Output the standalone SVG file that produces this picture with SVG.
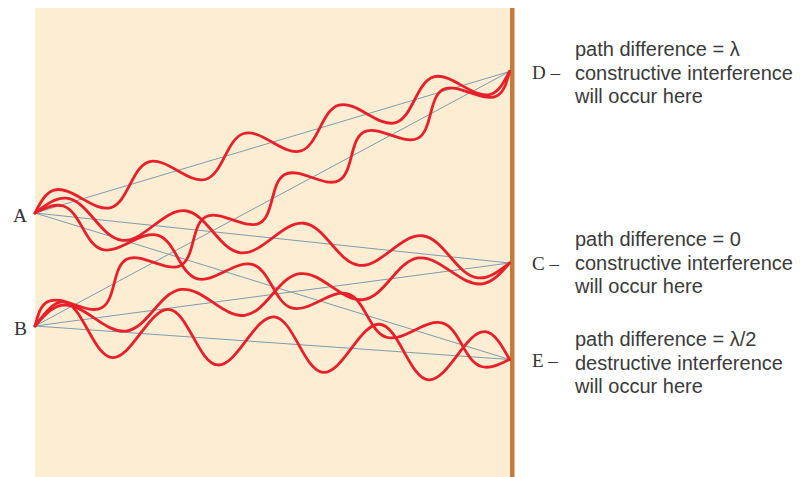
<svg xmlns="http://www.w3.org/2000/svg" width="800" height="477" viewBox="0 0 800 477">
  <style>
    .ray { stroke: #7b9bb0; stroke-width: 1; fill: none; }
    .wave { stroke: #e8202a; stroke-width: 2.8; fill: none; stroke-linejoin: round; stroke-linecap: round; }
    .pt { font-family: "Liberation Serif", "Times New Roman", serif; fill: #333333; }
    .note { font-family: "Liberation Sans", Arial, sans-serif; font-size: 20px; fill: #3a3a3a; }
  </style>

  <!-- region between the sources and the screen, and the screen itself -->
  <g id="field">
    <rect x="35" y="8" width="476" height="469" fill="#fdeed3"/>
    <rect x="510" y="8" width="4.5" height="469" fill="#c27b3b"/>
  </g>

  <!-- straight paths from each source to each point, with the waves drawn along them -->
  <g id="connectors">
    <line class="ray" x1="35" y1="213" x2="509.5" y2="71.5"/>
    <line class="ray" x1="35" y1="326" x2="509.5" y2="71.5"/>
    <line class="ray" x1="35" y1="213" x2="509.5" y2="263"/>
    <line class="ray" x1="35" y1="326" x2="509.5" y2="263"/>
    <line class="ray" x1="35" y1="213" x2="509.5" y2="359.5"/>
    <line class="ray" x1="35" y1="326" x2="509.5" y2="359.5"/>

    <!-- A to D : 5 wavelengths -->
    <path class="wave" transform="translate(35,213) rotate(-16.61)" d="M0,0 c8.07,-8.45 15.84,-16.5 24.76,-16.5 s16.68,8.05 24.76,16.5 s15.84,16.5 24.76,16.5 s16.68,-8.05 24.76,-16.5
      s15.84,-16.5 24.76,-16.5 s16.68,8.05 24.76,16.5 s15.84,16.5 24.76,16.5 s16.68,-8.05 24.76,-16.5
      s15.84,-16.5 24.76,-16.5 s16.68,8.05 24.76,16.5 s15.84,16.5 24.76,16.5 s16.68,-8.05 24.76,-16.5
      s15.84,-16.5 24.76,-16.5 s16.68,8.05 24.76,16.5 s15.84,16.5 24.76,16.5 s16.68,-8.05 24.76,-16.5
      s15.84,-16.5 24.76,-16.5 s16.68,8.05 24.76,16.5 s15.84,16.5 24.76,16.5 s16.68,-8.05 24.76,-16.5"/>

    <!-- B to D : 6 wavelengths -->
    <path class="wave" transform="translate(35,326) rotate(-28.21)" d="M0,0 c7.32,-7.94 14.35,-15.5 22.44,-15.5 s15.12,7.56 22.44,15.5 s14.35,15.5 22.44,15.5 s15.12,-7.56 22.44,-15.5
      s14.35,-15.5 22.44,-15.5 s15.12,7.56 22.44,15.5 s14.35,15.5 22.44,15.5 s15.12,-7.56 22.44,-15.5
      s14.35,-15.5 22.44,-15.5 s15.12,7.56 22.44,15.5 s14.35,15.5 22.44,15.5 s15.12,-7.56 22.44,-15.5
      s14.35,-15.5 22.44,-15.5 s15.12,7.56 22.44,15.5 s14.35,15.5 22.44,15.5 s15.12,-7.56 22.44,-15.5
      s14.35,-15.5 22.44,-15.5 s15.12,7.56 22.44,15.5 s14.35,15.5 22.44,15.5 s15.12,-7.56 22.44,-15.5
      s14.35,-15.5 22.44,-15.5 s15.12,7.56 22.44,15.5 s14.35,15.5 22.44,15.5 s15.12,-7.56 22.44,-15.5"/>

    <!-- A to C : 4 wavelengths -->
    <path class="wave" transform="translate(35,213) rotate(6.02)" d="M0,0 c9.72,-9.22 19.08,-18 29.82,-18 s20.1,8.78 29.82,18 s19.08,18 29.82,18 s20.1,-8.78 29.82,-18
      s19.08,-18 29.82,-18 s20.1,8.78 29.82,18 s19.08,18 29.82,18 s20.1,-8.78 29.82,-18
      s19.08,-18 29.82,-18 s20.1,8.78 29.82,18 s19.08,18 29.82,18 s20.1,-8.78 29.82,-18
      s19.08,-18 29.82,-18 s20.1,8.78 29.82,18 s19.08,18 29.82,18 s20.1,-8.78 29.82,-18"/>

    <!-- B to C : 4 wavelengths -->
    <path class="wave" transform="translate(35,326) rotate(-7.56)" d="M0,0 c9.76,-8.71 19.14,-17 29.92,-17 s20.16,8.29 29.92,17 s19.14,17 29.92,17 s20.16,-8.29 29.92,-17
      s19.14,-17 29.92,-17 s20.16,8.29 29.92,17 s19.14,17 29.92,17 s20.16,-8.29 29.92,-17
      s19.14,-17 29.92,-17 s20.16,8.29 29.92,17 s19.14,17 29.92,17 s20.16,-8.29 29.92,-17
      s19.14,-17 29.92,-17 s20.16,8.29 29.92,17 s19.14,17 29.92,17 s20.16,-8.29 29.92,-17"/>

    <!-- A to E : 5 wavelengths -->
    <path class="wave" transform="translate(35,213) rotate(17.16)" d="M0,0 c8.1,-7.69 15.89,-15 24.83,-15 s16.73,7.32 24.83,15 s15.89,15 24.83,15 s16.73,-7.32 24.83,-15
      s15.89,-15 24.83,-15 s16.73,7.32 24.83,15 s15.89,15 24.83,15 s16.73,-7.32 24.83,-15
      s15.89,-15 24.83,-15 s16.73,7.32 24.83,15 s15.89,15 24.83,15 s16.73,-7.32 24.83,-15
      s15.89,-15 24.83,-15 s16.73,7.32 24.83,15 s15.89,15 24.83,15 s16.73,-7.32 24.83,-15
      s15.89,-15 24.83,-15 s16.73,7.32 24.83,15 s15.89,15 24.83,15 s16.73,-7.32 24.83,-15"/>

    <!-- B to E : 4.5 wavelengths -->
    <path class="wave" transform="translate(35,326) rotate(4.04)" d="M0,0 c8.62,-13.32 16.91,-26 26.43,-26 s17.81,12.68 26.43,26 s16.91,26 26.43,26 s17.81,-12.68 26.43,-26
      s16.91,-26 26.43,-26 s17.81,12.68 26.43,26 s16.91,26 26.43,26 s17.81,-12.68 26.43,-26
      s16.91,-26 26.43,-26 s17.81,12.68 26.43,26 s16.91,26 26.43,26 s17.81,-12.68 26.43,-26
      s16.91,-26 26.43,-26 s17.81,12.68 26.43,26 s16.91,26 26.43,26 s17.81,-12.68 26.43,-26
      s16.91,-26 26.43,-26 s17.81,12.68 26.43,26"/>
  </g>

  <!-- sources -->
  <g id="source-A">
    <text class="pt" x="13" y="222" font-size="19.5">A</text>
  </g>
  <g id="source-B">
    <text class="pt" x="14" y="335" font-size="19.5">B</text>
  </g>

  <!-- points on the screen -->
  <g id="point-D">
    <text class="pt" x="532" y="79" font-size="19">D –</text>
    <text class="note" x="575" y="56">path difference = λ</text>
    <text class="note" x="575" y="80">constructive interference</text>
    <text class="note" x="575" y="103">will occur here</text>
  </g>
  <g id="point-C">
    <text class="pt" x="532" y="270" font-size="19">C –</text>
    <text class="note" x="575" y="246">path difference = 0</text>
    <text class="note" x="575" y="270">constructive interference</text>
    <text class="note" x="575" y="293">will occur here</text>
  </g>
  <g id="point-E">
    <text class="pt" x="532" y="367" font-size="19">E –</text>
    <text class="note" x="575" y="346">path difference = λ/2</text>
    <text class="note" x="575" y="370">destructive interference</text>
    <text class="note" x="575" y="393">will occur here</text>
  </g>
</svg>
